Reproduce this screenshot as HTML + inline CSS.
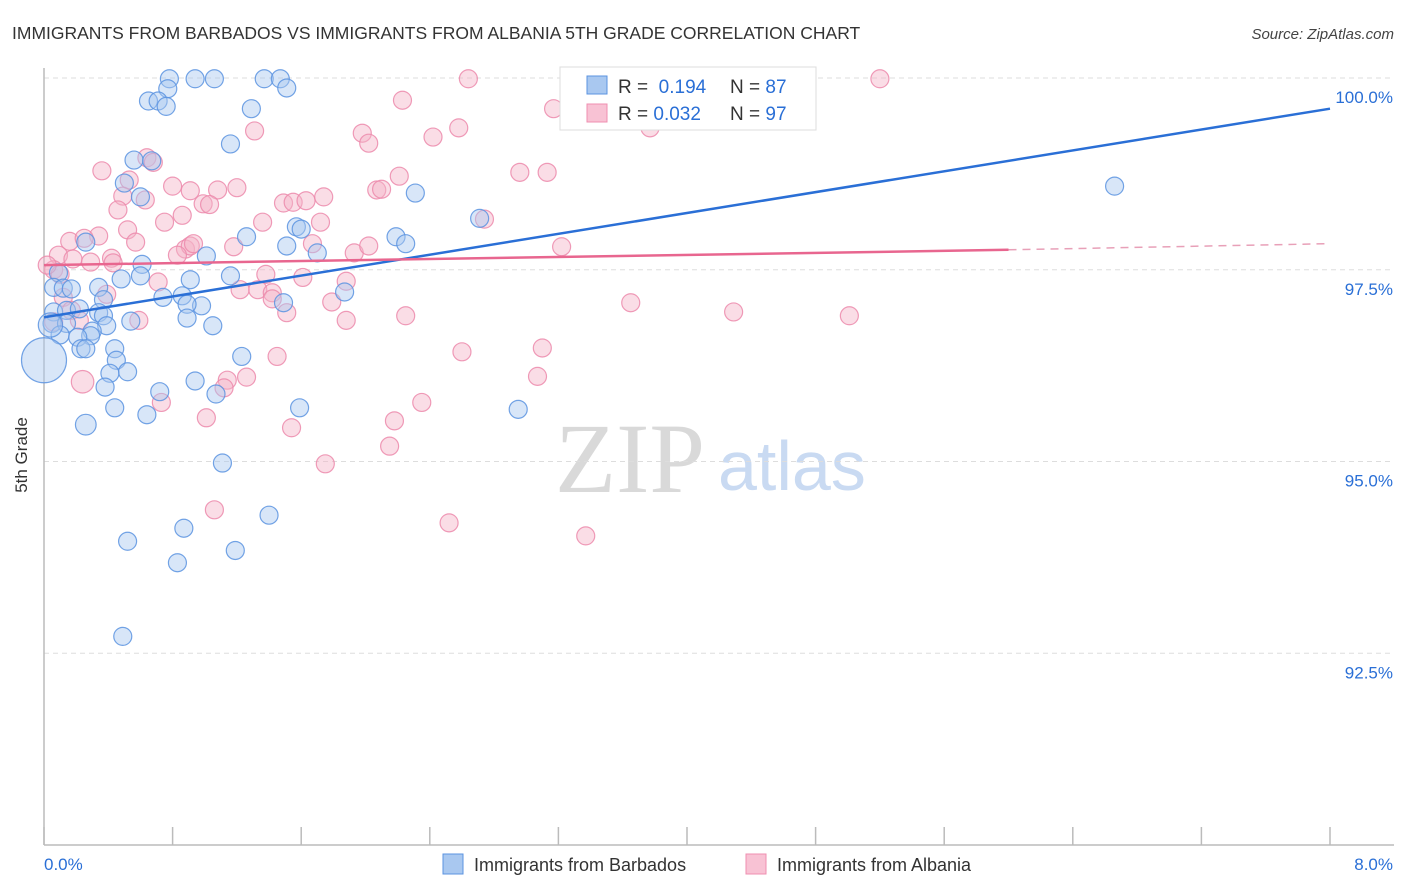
<!DOCTYPE html>
<html><head><meta charset="utf-8">
<style>
body{margin:0;background:#fff;font-family:"Liberation Sans",sans-serif;}
#wrap{position:relative;width:1406px;height:892px;overflow:hidden;}
</style></head>
<body>
<div id="wrap">
<svg id="chart" width="1406" height="892" xmlns="http://www.w3.org/2000/svg">
<text x="12" y="39" font-size="17.5" fill="#333">IMMIGRANTS FROM BARBADOS VS IMMIGRANTS FROM ALBANIA 5TH GRADE CORRELATION CHART</text>
<text x="1394" y="39" font-size="15" fill="#444" font-style="italic" text-anchor="end">Source: ZipAtlas.com</text>
<text x="27" y="455" font-size="17" fill="#333" text-anchor="middle" transform="rotate(-90 27 455)">5th Grade</text>
<g>
<text x="555" y="492" font-size="100" fill="#d9d9d9" font-family="Liberation Serif,serif">ZIP</text>
<text x="718" y="490" font-size="70" fill="#c9daf2">atlas</text>
</g>
<g id="grid"></g>
<g id="axes"></g>
<g id="pinkPts"></g>
<g id="bluePts"></g>
<g id="trends"></g>
<g>
<rect x="560" y="67" width="256" height="63" fill="#fff" stroke="#ddd"/>
<rect x="587" y="76" width="20" height="18" fill="#a9c8f0" stroke="#5b93e0"/>
<text x="618" y="93" font-size="19" fill="#333">R = <tspan fill="#2a6fd6">&#160;0.194</tspan><tspan x="730">N = </tspan><tspan fill="#2a6fd6">87</tspan></text>
<rect x="587" y="104" width="20" height="18" fill="#f8c2d4" stroke="#ef8fb0"/>
<text x="618" y="120" font-size="19" fill="#333">R = <tspan fill="#2a6fd6">0.032</tspan><tspan x="730">N = </tspan><tspan fill="#2a6fd6">97</tspan></text>
</g>
<g>
<rect x="443" y="854" width="20" height="20" fill="#a9c8f0" stroke="#5b93e0"/>
<text x="474" y="871" font-size="18" fill="#333">Immigrants from Barbados</text>
<rect x="746" y="854" width="20" height="20" fill="#f8c2d4" stroke="#ef8fb0"/>
<text x="777" y="871" font-size="18" fill="#333">Immigrants from Albania</text>
</g>
</svg>
</div>
<script>
const yTicks=[92.5,95,97.5,100];
const yTickLabels=["92.5%","95.0%","97.5%","100.0%"];
const xTicks=[0,0.8,1.6,2.4,3.2,4,4.8,5.6,6.4,7.2,8];
const xEndLabels=["0.0%","8.0%"];
const blueX=[0.78,0.94,1.06,1.37,1.47,1.51,0.77,0.65,0.71,0.76,1.29,1.16,0.56,0.67,0.50,0.60,6.66,2.31,2.71,1.57,1.60,1.26,1.51,2.19,2.25,0.26,1.70,1.01,0.61,0.60,0.48,0.09,0.91,1.16,0.06,0.12,0.17,0.34,0.74,0.86,1.87,1.49,0.98,0.37,0.89,0.06,0.14,0.22,0.34,0.37,0.89,1.05,0.54,0.39,0.05,0.14,0.30,0.29,0.10,0.21,0.23,0.44,0.26,1.23,0.45,0.52,0.41,0.94,0.72,0.38,1.07,1.59,2.95,0.44,0.64,0.26,1.11,0.87,1.40,0.52,1.19,0.83,0.49,0.00,0.04];
const blueY=[99.99,99.99,99.99,99.99,99.99,99.87,99.86,99.70,99.70,99.63,99.60,99.14,98.93,98.92,98.63,98.45,98.59,98.50,98.17,98.06,98.03,97.93,97.81,97.93,97.84,97.86,97.72,97.68,97.57,97.42,97.38,97.46,97.37,97.42,97.27,97.26,97.25,97.27,97.14,97.16,97.21,97.07,97.03,97.11,97.05,96.95,96.97,96.99,96.94,96.90,96.87,96.77,96.83,96.77,96.80,96.80,96.70,96.64,96.65,96.62,96.47,96.47,96.47,96.37,96.32,96.17,96.15,96.05,95.91,95.97,95.88,95.70,95.68,95.70,95.61,95.48,94.98,94.13,94.30,93.96,93.84,93.68,92.72,96.32,96.78];
const blueSize=[1,1,1,1,1,1,1,1,1,1,1,1,1,1,1,1,1,1,1,1,1,1,1,1,1,1,1,1,1,1,1,1,1,1,1,1,1,1,1,1,1,1,1,1,1,1,1,1,1,1,1,1,1,1,1,1,1,1,1,1,1,1,1,1,1,1,1,1,1,1,1,1,1,1,1,1.15,1,1,1,1,1,1,1,2.5,1.35];
const pinkX=[2.64,5.20,2.23,3.17,3.77,2.42,2.58,1.31,1.98,2.02,0.64,0.68,0.36,2.96,3.13,2.21,0.53,0.80,0.91,1.08,1.20,2.07,2.10,0.49,0.63,0.99,1.03,1.49,1.55,1.63,1.74,0.46,0.86,0.75,1.36,1.72,2.74,0.52,0.16,0.34,0.25,0.57,0.88,0.91,0.93,1.18,1.67,1.93,2.02,3.22,0.09,0.18,0.29,0.42,0.43,0.06,0.10,0.02,0.83,1.38,1.61,1.88,0.71,0.12,0.39,1.22,1.33,1.42,1.42,1.79,3.65,4.29,5.01,0.59,0.17,0.22,1.51,1.88,2.25,0.06,1.45,2.60,3.10,0.24,1.14,1.26,1.12,3.07,0.73,2.35,2.18,1.01,1.54,2.15,1.75,1.06,2.52,3.37];
const pinkY=[99.99,99.99,99.71,99.60,99.35,99.23,99.35,99.31,99.28,99.15,98.96,98.90,98.79,98.77,98.77,98.72,98.67,98.59,98.53,98.54,98.57,98.54,98.55,98.46,98.41,98.36,98.35,98.37,98.38,98.40,98.45,98.28,98.21,98.12,98.12,98.12,98.16,98.02,97.87,97.94,97.91,97.86,97.77,97.81,97.84,97.80,97.84,97.72,97.81,97.80,97.69,97.64,97.60,97.65,97.59,97.50,97.44,97.56,97.69,97.44,97.40,97.35,97.34,97.14,97.18,97.24,97.24,97.20,97.12,97.08,97.07,96.95,96.90,96.84,96.97,96.84,96.94,96.84,96.90,96.82,96.37,96.43,96.48,96.04,96.06,96.10,95.96,96.11,95.77,95.77,95.53,95.57,95.44,95.20,94.97,94.37,94.20,94.03];
const pinkSize=pinkX.map((v,i)=>i===83?1.25:1);
const blueTrendX=[0,8];
const blueTrendY=[96.88,99.60];
const pinkTrendX=[0,6.0,8];
const pinkTrendY=[97.56,97.76,97.84];

const X0=44,X1=1330,Y0=845,Y1=78;
const sx=v=>X0+(v-0)/8*(X1-X0);
const sy=v=>Y0-(v-90)/10*(Y0-Y1);
const NS="http://www.w3.org/2000/svg";
function mk(tag,attrs,parent){const e=document.createElementNS(NS,tag);for(const k in attrs)e.setAttribute(k,attrs[k]);parent.appendChild(e);return e;}

const grid=document.getElementById('grid');
yTicks.forEach((t,i)=>{
  const l=mk('line',{x1:X0,x2:1394,y1:sy(t),y2:sy(t),stroke:'#ddd','stroke-dasharray':'5,4'},grid);
  
  
  const tx=mk('text',{x:1393,y:sy(t)+25,'text-anchor':'end','font-size':17,fill:'#2a6fd6'},grid);
  tx.textContent=yTickLabels[i];
  
  
});
const axes=document.getElementById('axes');
const ya=mk('line',{x1:X0,x2:X0,y1:68,y2:Y0,stroke:'#bbb','stroke-width':1.5},axes);


const xa=mk('line',{x1:X0,x2:1394,y1:Y0,y2:Y0,stroke:'#bbb','stroke-width':1.5},axes);


xTicks.forEach(t=>{
  const l=mk('line',{x1:sx(t),x2:sx(t),y1:Y0,y2:Y0-18,stroke:'#bbb','stroke-width':1.5},axes);
  
  
});
const xl0=mk('text',{x:44,y:870,'font-size':17,fill:'#2a6fd6'},axes);
xl0.textContent=xEndLabels[0];


const xl1=mk('text',{x:1393,y:870,'font-size':17,fill:'#2a6fd6','text-anchor':'end'},axes);
xl1.textContent=xEndLabels[1];



function dots(gid,xs,ys,ss,fill,stroke,name){
  const g=document.getElementById(gid);
  xs.forEach((x,i)=>{
    const c=mk('circle',{cx:sx(x),cy:sy(ys[i]),r:9*ss[i],fill:fill,'fill-opacity':0.45,stroke:stroke,'stroke-width':1.2,'stroke-opacity':0.85},g);
    
    
  });
}
dots('pinkPts',pinkX,pinkY,pinkSize,'#f5b3c8','#ec8aab','point-albania');
dots('bluePts',blueX,blueY,blueSize,'#a9c8f0','#5b93e0','point-barbados');

const tr=document.getElementById('trends');
const bl=mk('line',{x1:sx(blueTrendX[0]),y1:sy(blueTrendY[0]),x2:sx(blueTrendX[1]),y2:sy(blueTrendY[1]),stroke:'#2a6fd6','stroke-width':2.5},tr);


const pl=mk('line',{x1:sx(pinkTrendX[0]),y1:sy(pinkTrendY[0]),x2:sx(pinkTrendX[1]),y2:sy(pinkTrendY[1]),stroke:'#e8668f','stroke-width':2.5},tr);


const pd=mk('line',{x1:sx(pinkTrendX[1]),y1:sy(pinkTrendY[1]),x2:sx(pinkTrendX[2]),y2:sy(pinkTrendY[2]),stroke:'#e8a0b8','stroke-width':1.5,'stroke-dasharray':'8,6'},tr);


</script>
</body></html>
